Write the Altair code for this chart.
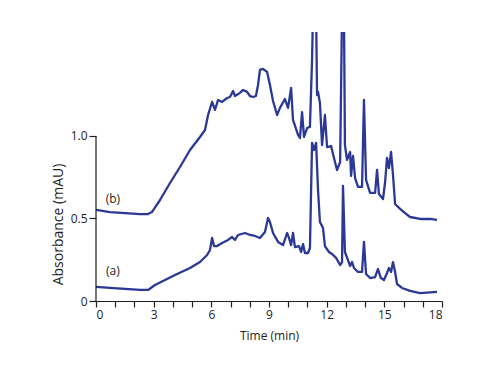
import altair as alt
import pandas as pd

# Trace (b) – upper chromatogram
b_time = [0.00, 0.73, 1.51, 2.29, 2.71, 2.91, 3.33, 3.85, 4.37, 4.89, 5.41, 5.67, 5.83, 6.04, 6.19,
          6.35, 6.56, 6.82, 6.97, 7.13, 7.23, 7.49, 7.65, 7.86, 8.01, 8.17, 8.32, 8.43, 8.53, 8.69,
          8.90, 9.05, 9.21, 9.42, 9.57, 9.83, 9.99, 10.15, 10.25, 10.51, 10.61, 10.72, 10.82, 10.98,
          11.13, 11.24, 11.29, 11.45, 11.50, 11.55, 11.65, 11.76, 11.91, 12.02, 12.23, 12.38, 12.54,
          12.70, 12.80, 12.90, 12.95, 13.06, 13.22, 13.27, 13.37, 13.48, 13.63, 13.84, 13.94, 14.05,
          14.26, 14.52, 14.62, 14.72, 14.93, 15.04, 15.14, 15.24, 15.35, 15.45, 15.56, 15.82, 16.08,
          16.34, 16.86, 17.38, 17.74]
b_abs = [0.552, 0.539, 0.533, 0.527, 0.527, 0.539, 0.612, 0.715, 0.812, 0.915, 0.994, 1.036, 1.127,
         1.206, 1.158, 1.218, 1.206, 1.230, 1.236, 1.273, 1.242, 1.261, 1.279, 1.267, 1.242, 1.236,
         1.242, 1.309, 1.400, 1.406, 1.388, 1.309, 1.212, 1.127, 1.170, 1.224, 1.170, 1.291, 1.097,
         1.006, 0.988, 1.145, 0.994, 1.048, 1.055, 1.461, 1.75, 1.75, 1.248, 1.267, 1.200, 0.945,
         1.127, 0.933, 0.939, 0.867, 0.794, 0.842, 1.75, 1.75, 0.945, 0.855, 0.903, 0.758, 0.879,
         0.745, 0.691, 0.691, 1.218, 0.733, 0.655, 0.655, 0.794, 0.648, 0.618, 0.721, 0.867, 0.806,
         0.903, 0.764, 0.588, 0.558, 0.533, 0.509, 0.497, 0.497, 0.491]

# Trace (a) – lower chromatogram
a_time = [0.00, 0.73, 1.51, 2.29, 2.71, 3.07, 3.59, 4.11, 4.89, 5.41, 5.78, 5.93, 6.04, 6.14, 6.30,
          6.56, 6.87, 7.08, 7.23, 7.39, 7.75, 8.01, 8.27, 8.53, 8.79, 8.95, 9.05, 9.21, 9.47, 9.73,
          9.94, 10.04, 10.15, 10.25, 10.35, 10.56, 10.67, 10.77, 10.87, 11.03, 11.13, 11.24, 11.34,
          11.45, 11.55, 11.65, 11.81, 11.91, 12.12, 12.28, 12.49, 12.70, 12.80, 12.85, 12.95, 13.11,
          13.22, 13.32, 13.42, 13.63, 13.84, 13.94, 14.05, 14.26, 14.52, 14.67, 14.82, 14.98, 15.14,
          15.24, 15.35, 15.45, 15.56, 15.66, 15.92, 16.34, 16.86, 17.74]
a_abs = [0.085, 0.079, 0.073, 0.067, 0.067, 0.097, 0.127, 0.158, 0.200, 0.236, 0.279, 0.309, 0.382,
         0.333, 0.333, 0.352, 0.370, 0.388, 0.370, 0.400, 0.412, 0.400, 0.394, 0.382, 0.418, 0.503,
         0.479, 0.412, 0.358, 0.339, 0.412, 0.382, 0.339, 0.412, 0.327, 0.333, 0.297, 0.345, 0.291,
         0.291, 0.321, 0.958, 0.915, 0.958, 0.673, 0.479, 0.442, 0.333, 0.297, 0.285, 0.261, 0.218,
         0.236, 0.697, 0.297, 0.248, 0.212, 0.236, 0.200, 0.176, 0.176, 0.358, 0.164, 0.139, 0.145,
         0.194, 0.139, 0.127, 0.170, 0.200, 0.176, 0.236, 0.176, 0.103, 0.079, 0.061, 0.048, 0.055]

x_ticks = list(range(0, 19))
y_ticks = [0, 0.5, 1.0]
trace_labels = ["(a)", "(b)"]
label_time = [0.88, 0.88]
label_abs = [0.18, 0.62]

df = pd.concat([
    pd.DataFrame({"t": a_time, "A": a_abs, "s": "a"}),
    pd.DataFrame({"t": b_time, "A": b_abs, "s": "b"}),
])
lab = pd.DataFrame({"t": label_time, "A": label_abs, "txt": trace_labels})
axis_df = pd.DataFrame({"t": [0], "A": [0], "A2": [1.0]})

FONT = "Open Sans"
COLOR = "#2b3895"
INK = "#1e1e1e"

xs = alt.Scale(domain=[0, 18], nice=False)
ys = alt.Scale(domain=[0, 1.63], nice=False)

x_axis = alt.Axis(
    title="Time (min)", values=x_ticks, grid=False, labelOverlap=False,
    labelExpr="datum.value % 3 == 0 ? datum.label : ''",
    tickSize=6, labelPadding=2, titlePadding=10, labelFontSize=12, titleFontSize=12,
    labelFont=FONT, titleFont=FONT, labelColor=INK, titleColor=INK,
    titleFontWeight="normal", domainColor=INK, tickColor=INK, domainWidth=1.2, tickWidth=1.2)
y_axis = alt.Axis(
    title="Absorbance (mAU)", values=y_ticks, grid=False, domain=False, labelOverlap=False,
    labelExpr="datum.value == 0 ? '0' : format(datum.value, '.1f')",
    tickSize=7, labelPadding=2, labelFontSize=12, titleFontSize=14,
    titleX=-38, titleY=192, titleBaseline="middle", titleAlign="center", titleAngle=270,
    labelFont=FONT, titleFont=FONT, labelColor=INK, titleColor=INK,
    titleFontWeight="normal", tickColor=INK, tickWidth=1.2, labelFlush=False)

X = alt.X("t:Q", scale=xs, axis=x_axis)
Y = alt.Y("A:Q", scale=ys, axis=y_axis)

lines = alt.Chart(df).mark_line(color=COLOR, strokeWidth=2.3, clip=True, strokeJoin="round").encode(
    x=X, y=Y, detail="s:N")

yaxis_line = alt.Chart(axis_df).mark_rule(color=INK, strokeWidth=1.2).encode(
    x=X, y=Y, y2="A2:Q")

texts = alt.Chart(lab).mark_text(font=FONT, fontSize=12, color=INK).encode(
    x=X, y=Y, text="txt:N")

chart = alt.layer(lines, yaxis_line, texts).properties(
    width=346, height=269,
    autosize=alt.AutoSizeParams(type="none"),
    padding={"left": 88, "top": 24, "right": 40, "bottom": 50},
).configure_view(stroke=None)

chart.save("out.html", embed_options={"renderer": "svg", "actions": False})
